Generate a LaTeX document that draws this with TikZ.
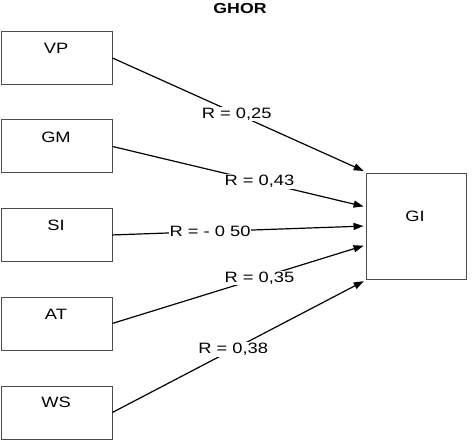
\documentclass[tikz,border=0pt]{standalone}
\usepackage{fontspec}
\setmainfont{Liberation Sans}[FakeStretch=1.22]
\usetikzlibrary{arrows.meta,positioning,calc}
\begin{document}
\begin{tikzpicture}[x=1pt,y=-1pt,
  box/.style={draw=black!70,line width=0.9pt,minimum width=111pt,minimum height=53pt,anchor=north west,inner sep=0pt},
  boxlabel/.style={font=\fontsize{15}{15}\selectfont,anchor=center},
  conn/.style={line width=1.2pt,-{Triangle[length=10pt,width=7pt]},shorten >=2.5pt},
  rlabel/.style={fill=white,inner sep=1pt,font=\fontsize{15}{15}\selectfont}]
\useasboundingbox (0,0) rectangle (473,446);
\node[font=\bfseries\fontsize{14.5}{14.5}\selectfont] (title) at (240,8.5) {GHOR};
\node[box] (VP) at (0.5,31) {};
\node[box] (GM) at (0.5,119.5) {};
\node[box] (SI) at (0.5,208) {};
\node[box] (AT) at (0.5,296.5) {};
\node[box] (WS) at (0.5,385.5) {};
\node[box,minimum width=100pt,minimum height=106pt] (GI) at (366,173) {};
\node[boxlabel] (tVP) at (56,48) {VP};
\node[boxlabel] (tGM) at (56,137) {GM};
\node[boxlabel] (tSI) at (56,225) {SI};
\node[boxlabel] (tAT) at (56,314) {AT};
\node[boxlabel] (tWS) at (56,402) {WS};
\node[boxlabel] (tGI) at (415,216) {GI};
\coordinate (e1) at (366,172);
\coordinate (e2) at (366,207);
\coordinate (e3) at (366,226);
\coordinate (e4) at (366,245);
\coordinate (e5) at (366,280);
\draw[conn] (VP.east) -- node[rlabel,pos=0.49] {R = 0,25} (e1);
\draw[conn] (GM.east) -- node[rlabel,pos=0.58] {R = 0,43} (e2);
\draw[conn] (SI.east) -- node[rlabel,pos=0.385] {R = - 0 50} (e3);
\draw[conn] (AT.east) -- node[rlabel,pos=0.58] {R = 0,35} (e4);
\draw[conn] (WS.east) -- node[rlabel,pos=0.476] {R = 0,38} (e5);
\end{tikzpicture}
\end{document}
